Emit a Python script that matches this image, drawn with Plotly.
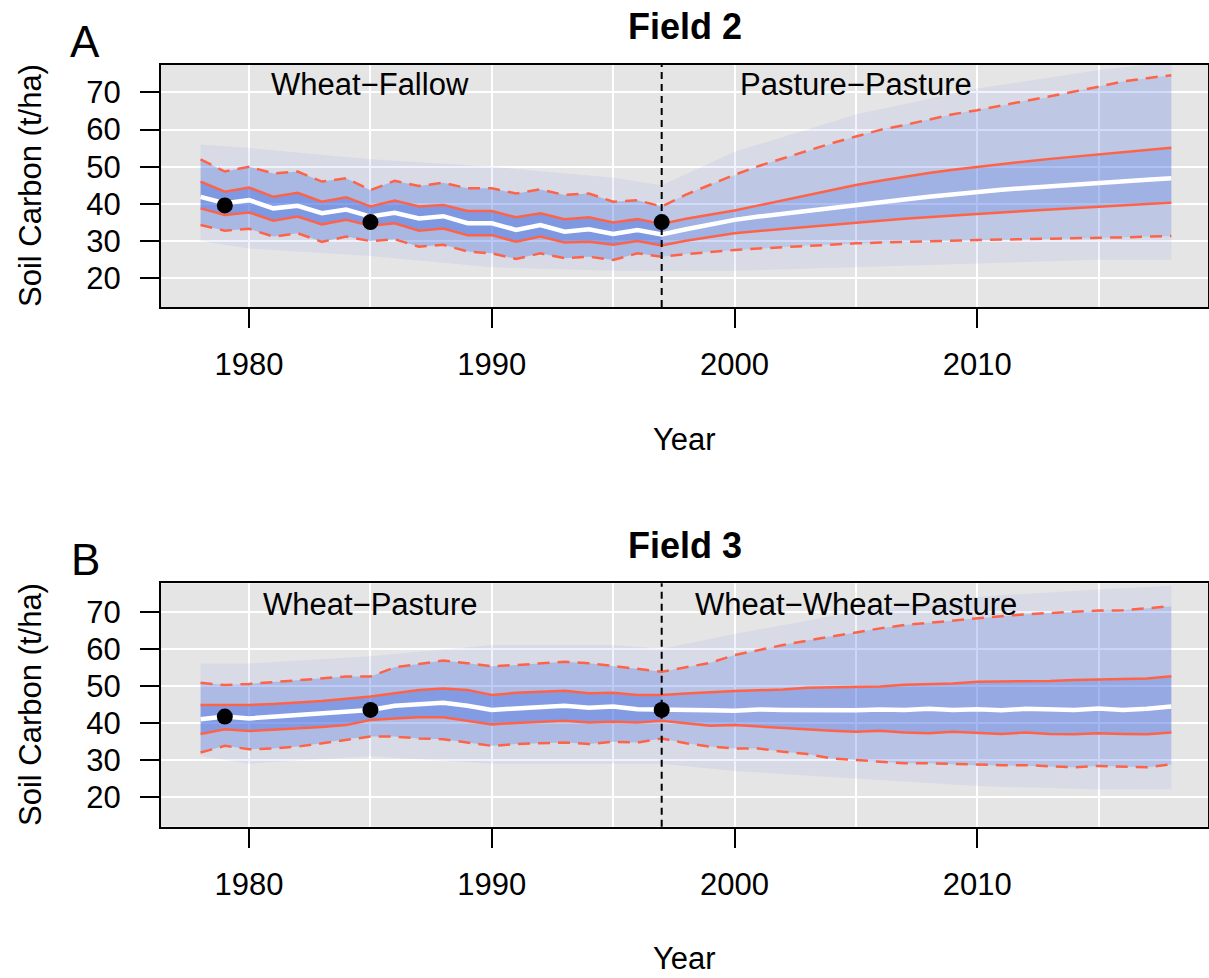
import plotly.graph_objects as go

# ---------------- data ----------------
years = list(range(1978, 2019))

# Field 2 (panel A)
A_med = [41.9, 40.2, 41.0, 38.8, 39.5, 37.5, 38.5, 36.6, 37.6, 36.1, 36.7, 34.8, 34.8, 33.0, 34.3, 32.5, 33.2, 31.9, 33.0, 31.8,
         33.2, 34.5, 35.7, 36.6, 37.4, 38.2, 39.0, 39.7, 40.5, 41.2, 41.9, 42.6, 43.3, 43.8, 44.3, 44.8, 45.3, 45.7, 46.1, 46.5, 46.9]
A_q_hi = [46.0, 43.3, 44.4, 41.9, 43.0, 40.6, 41.8, 39.3, 40.9, 39.3, 39.7, 38.1, 38.1, 36.4, 37.5, 35.9, 36.4, 35.0, 35.9, 34.6,
          36.0, 37.1, 38.2, 39.6, 41.0, 42.4, 43.8, 45.1, 46.2, 47.3, 48.3, 49.2, 50.0, 50.7, 51.4, 52.1, 52.7, 53.3, 53.9, 54.5, 55.1]
A_q_lo = [38.8, 37.0, 37.7, 35.5, 36.6, 34.5, 35.7, 34.1, 34.8, 32.8, 33.4, 31.6, 31.6, 29.8, 31.2, 29.6, 29.8, 29.0, 30.0, 28.8,
          30.1, 31.1, 32.1, 32.7, 33.3, 33.9, 34.5, 35.0, 35.5, 36.0, 36.5, 36.9, 37.3, 37.7, 38.1, 38.5, 38.9, 39.3, 39.7, 40.0, 40.3]
A_d_hi = [52.0, 48.7, 50.0, 48.2, 48.7, 46.0, 46.9, 43.7, 46.2, 44.8, 45.7, 44.2, 44.2, 42.8, 43.9, 42.4, 42.8, 40.6, 41.0, 39.3,
          42.5, 45.2, 47.8, 50.2, 52.3, 54.3, 56.3, 58.1, 59.9, 61.2, 62.7, 64.1, 65.2, 66.4, 67.7, 68.8, 70.2, 71.5, 72.9, 73.8, 74.6]
A_d_lo = [34.3, 32.8, 33.3, 31.2, 32.1, 29.8, 31.2, 30.0, 30.5, 28.5, 29.0, 27.2, 26.7, 25.2, 26.7, 25.4, 25.8, 24.9, 26.7, 25.8,
          26.5, 27.1, 27.6, 28.0, 28.4, 28.8, 29.1, 29.4, 29.6, 29.8, 30.0, 30.2, 30.3, 30.4, 30.5, 30.6, 30.7, 30.8, 31.0, 31.2, 31.4]

# Field 3 (panel B)
B_med = [41.0, 41.7, 41.2, 41.7, 42.1, 42.6, 43.0, 43.5, 44.6, 45.1, 45.4, 44.6, 43.5, 43.9, 44.1, 44.6, 44.1, 44.4, 43.7, 43.5,
         43.5, 43.4, 43.3, 43.6, 43.5, 43.4, 43.3, 43.4, 43.6, 43.5, 43.8, 43.5, 43.7, 43.4, 43.8, 43.6, 43.5, 43.9, 43.5, 43.8, 44.4]
B_q_hi = [44.8, 44.8, 44.8, 45.1, 45.4, 45.9, 46.5, 47.1, 48.0, 48.9, 49.3, 48.9, 47.5, 48.1, 48.4, 48.7, 48.0, 48.1, 47.5, 47.5,
          47.9, 48.3, 48.6, 48.8, 49.0, 49.5, 49.6, 49.8, 49.8, 50.3, 50.4, 50.6, 51.1, 51.2, 51.1, 51.3, 51.6, 51.8, 51.9, 52.0, 52.6]
B_q_lo = [37.0, 38.3, 37.8, 38.1, 38.5, 38.9, 39.4, 40.8, 41.2, 41.5, 41.5, 40.5, 39.6, 40.0, 40.3, 40.6, 40.1, 40.3, 40.1, 40.6,
          39.9, 39.2, 39.4, 39.0, 38.5, 38.3, 37.9, 37.6, 37.9, 37.4, 37.2, 37.6, 37.2, 37.0, 37.4, 37.0, 36.9, 37.2, 37.0, 36.9, 37.4]
B_d_hi = [50.8, 50.2, 50.5, 51.0, 51.6, 52.0, 52.5, 52.5, 55.0, 55.9, 56.8, 56.1, 55.3, 55.6, 56.1, 56.5, 56.1, 55.3, 54.4, 53.8,
          55.0, 56.2, 58.3, 59.7, 61.0, 62.2, 63.3, 64.6, 65.5, 66.4, 67.0, 67.8, 68.2, 68.8, 69.3, 69.7, 70.0, 70.3, 70.4, 70.9, 71.5]
B_d_lo = [32.0, 33.8, 32.9, 33.1, 33.6, 34.5, 35.6, 36.3, 36.3, 35.8, 35.6, 34.7, 33.8, 34.3, 34.5, 34.7, 34.3, 34.9, 34.7, 35.8,
          34.5, 33.6, 33.1, 33.1, 32.2, 31.6, 30.4, 30.0, 29.5, 29.1, 29.1, 28.9, 28.6, 28.6, 28.6, 28.2, 28.0, 28.4, 28.2, 28.0, 28.8]

# rough outer envelope of the ensemble cloud
env_years = [1978, 1980, 1985, 1990, 1995, 1997, 2000, 2005, 2010, 2015, 2018]
A_env_hi = [56, 55, 52, 50, 47, 45, 54, 64, 71, 76, 78]
A_env_lo = [30, 28, 26, 23, 22, 22, 22, 23, 24, 25, 25]
B_env_hi = [56, 56, 58, 61, 61, 60, 64, 70, 74, 76, 77]
B_env_lo = [31, 29, 31, 29, 29, 29, 27, 25, 23, 22, 22]

# observations
obs_years = [1979, 1985, 1997]
A_obs = [39.6, 35.1, 35.1]
B_obs = [41.7, 43.5, 43.5]

change_year = 1997
x_ticks = [1980, 1990, 2000, 2010]
x_minor = [1985, 1995, 2005, 2015]
y_ticks = [20, 30, 40, 50, 60, 70]

panels = [
    dict(name="Field 2", tag="A", med=A_med, qh=A_q_hi, ql=A_q_lo, dh=A_d_hi, dl=A_d_lo,
         eh=A_env_hi, el=A_env_lo, obs=A_obs, left="Wheat\u2212Fallow", right="Pasture\u2212Pasture",
         xa="x", ya="y", alpha_pre=(0.62, 0.36), alpha_post=(0.42, 0.24)),
    dict(name="Field 3", tag="B", med=B_med, qh=B_q_hi, ql=B_q_lo, dh=B_d_hi, dl=B_d_lo,
         eh=B_env_hi, el=B_env_lo, obs=B_obs, left="Wheat\u2212Pasture", right="Wheat\u2212Wheat\u2212Pasture",
         xa="x2", ya="y2", alpha_pre=(0.60, 0.34), alpha_post=(0.48, 0.28)),
]

FONT = "Liberation Sans, Arial, Helvetica, sans-serif"
BLUE = "65,105,225"
RED = "#FF6347"

fig = go.Figure()


def band(xa_vals, ya_vals, xb_vals, yb_vals, color, xa, ya):
    fig.add_trace(go.Scatter(
        x=list(xa_vals) + list(xb_vals)[::-1],
        y=list(ya_vals) + list(yb_vals)[::-1],
        fill="toself", fillcolor=color, mode="lines", line=dict(width=0),
        hoverinfo="skip", showlegend=False, xaxis=xa, yaxis=ya))


k = years.index(change_year)
for p in panels:
    xa, ya = p["xa"], p["ya"]
    # ensemble cloud approximated by density bands
    band(env_years, p["eh"], years, p["dh"], f"rgba({BLUE},0.08)", xa, ya)
    band(years, p["dl"], env_years, p["el"], f"rgba({BLUE},0.08)", xa, ya)
    for sl, (a_core, a_mid) in ((slice(0, k + 1), p["alpha_pre"]), (slice(k, None), p["alpha_post"])):
        yr = years[sl]
        band(yr, p["dh"][sl], yr, p["qh"][sl], f"rgba({BLUE},{a_mid})", xa, ya)
        band(yr, p["qh"][sl], yr, p["ql"][sl], f"rgba({BLUE},{a_core})", xa, ya)
        band(yr, p["ql"][sl], yr, p["dl"][sl], f"rgba({BLUE},{a_mid})", xa, ya)
    # quantile lines
    for key in ("dh", "dl"):
        fig.add_trace(go.Scatter(x=years, y=p[key], mode="lines",
                                 line=dict(color=RED, width=2.5, dash="12px,8px"),
                                 showlegend=False, xaxis=xa, yaxis=ya))
    for key in ("qh", "ql"):
        fig.add_trace(go.Scatter(x=years, y=p[key], mode="lines",
                                 line=dict(color=RED, width=2.5),
                                 showlegend=False, xaxis=xa, yaxis=ya))
    fig.add_trace(go.Scatter(x=years, y=p["med"], mode="lines",
                             line=dict(color="white", width=4.5),
                             showlegend=False, xaxis=xa, yaxis=ya))
    fig.add_trace(go.Scatter(x=obs_years, y=p["obs"], mode="markers",
                             marker=dict(color="black", size=16),
                             showlegend=False, xaxis=xa, yaxis=ya))

W, H = 1209, 978
x_dom = [161 / W, 1208 / W]
A_top, A_bot = 65, 307
B_top, B_bot = 583.3, 826.7
FS = 31


def xaxis(anchor):
    return dict(domain=x_dom, anchor=anchor, range=[1976.37, 2019.51],
                tickmode="array", tickvals=x_ticks, ticks="outside", ticklen=19, tickwidth=2,
                tickcolor="black", showgrid=True, gridcolor="white", gridwidth=2,
                minor=dict(tickmode="array", tickvals=x_minor, showgrid=True, gridcolor="white",
                           gridwidth=2, ticks=""),
                showline=True, mirror=True, linecolor="black", linewidth=2, zeroline=False,
                tickfont=dict(size=FS, color="black", family=FONT), ticklabelstandoff=10)


def yaxis(anchor, top, bot, rng):
    return dict(domain=[1 - bot / H, 1 - top / H], anchor=anchor, range=rng,
                tickmode="array", tickvals=y_ticks, ticks="outside", ticklen=19, tickwidth=2,
                tickcolor="black", showgrid=True, gridcolor="white", gridwidth=2,
                showline=True, mirror=True, linecolor="black", linewidth=2, zeroline=False,
                tickfont=dict(size=FS, color="black", family=FONT), ticklabelstandoff=13)


fig.update_layout(
    width=W, height=H, margin=dict(l=0, r=0, t=0, b=0),
    paper_bgcolor="white", plot_bgcolor="#E5E5E5",
    font=dict(family=FONT, color="black"),
    showlegend=False,
    xaxis=xaxis("y"), yaxis=yaxis("x", A_top, A_bot, [12.28, 77.34]),
    xaxis2=xaxis("y2"), yaxis2=yaxis("x2", B_top, B_bot, [11.99, 77.66]),
)

ann = []
for p, top, bot in ((panels[0], A_top, A_bot), (panels[1], B_top, B_bot)):
    xa, ya = p["xa"], p["ya"]
    ann.append(dict(text=f"<b>{p['name']}</b>", xref=f"{xa} domain", yref="paper", x=0.5,
                    y=1 - (top - 38) / H, xanchor="center", yanchor="middle", showarrow=False,
                    font=dict(size=36, family=FONT)))
    ann.append(dict(text=p["tag"], xref="paper", yref="paper", x=85 / W, y=1 - (top - 24) / H,
                    xanchor="center", yanchor="middle", showarrow=False, font=dict(size=44, family=FONT)))
    ann.append(dict(text="Soil Carbon (t/ha)", xref="paper", yref="paper", x=30 / W,
                    y=1 - ((top + bot) / 2) / H, xanchor="center", yanchor="middle", textangle=-90,
                    showarrow=False, font=dict(size=FS, family=FONT)))
    ann.append(dict(text="Year", xref=f"{xa} domain", yref="paper", x=0.5, y=1 - (top + 375) / H,
                    xanchor="center", yanchor="middle", showarrow=False, font=dict(size=FS, family=FONT)))
    ann.append(dict(text=p["left"], xref=xa, yref=ya, x=1985, y=72, xanchor="center", yanchor="middle",
                    showarrow=False, font=dict(size=FS, family=FONT)))
    ann.append(dict(text=p["right"], xref=xa, yref=ya, x=2005, y=72, xanchor="center", yanchor="middle",
                    showarrow=False, font=dict(size=FS, family=FONT)))
    fig.add_shape(type="line", xref=xa, yref=f"{ya} domain", x0=change_year, x1=change_year, y0=0, y1=1,
                  line=dict(color="black", width=2, dash="7px,5px"), layer="above")

fig.update_layout(annotations=ann)
fig.write_html("out.html")
